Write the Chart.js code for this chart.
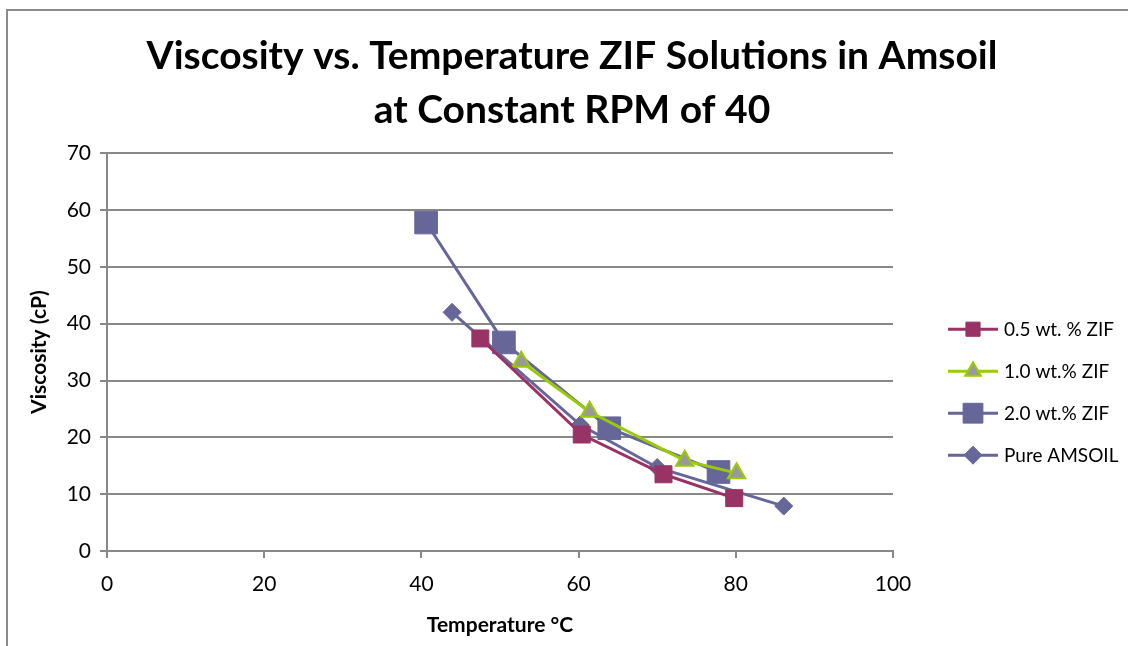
<!DOCTYPE html>
<html>
<head>
<meta charset="utf-8">
<script src="https://cdn.jsdelivr.net/npm/chart.js@4"></script>
<style>
 body{margin:0;background:#fff;}
 #wrap{position:relative;width:1128px;height:646px;}
 #frame{position:absolute;left:6px;top:9px;width:1130px;height:650px;border:2px solid #8a8a8a;pointer-events:none;}
</style>
</head>
<body>
<div id="wrap">
<canvas id="myChart1" width="1128" height="646"></canvas>
<div id="frame"></div>
</div>
<script>
// temperature (C) / viscosity (cP)
var zif05_temp = [47.5, 60.4, 70.8, 79.8];
var zif05_visc = [37.4, 20.5, 13.5, 9.3];
var zif10_temp = [52.7, 61.4, 73.5, 80.1];
var zif10_visc = [33.3, 24.5, 15.9, 13.7];
var zif20_temp = [40.6, 50.5, 63.9, 77.8];
var zif20_visc = [57.8, 36.7, 21.6, 13.9];
var pure_temp = [43.9, 60.2, 70.0, 86.1];
var pure_visc = [42.0, 22.2, 14.7, 7.9];
var seriesNames = ["0.5 wt. % ZIF", "1.0 wt.% ZIF", "2.0 wt.% ZIF", "Pure AMSOIL"];
var xTicks = [0, 20, 40, 60, 80, 100];
var yTicks = [0, 10, 20, 30, 40, 50, 60, 70];

function pts(xs, ys){
	var out = [];
	for(var i = 0; i < xs.length; i++) out.push({x: xs[i], y: ys[i]});
	return out;
}

var FONT = "Lato, 'Open Sans', sans-serif";

// excel style legend (line through marker), drawn right of the plot
var sideLegend = {
	id: "sideLegend",
	beforeInit: function(chart){
		// reserve the legend column so the title stays centred on the whole canvas
		Chart.layouts.addBox(chart, {
			position: "right",
			weight: 0,
			fullSize: false,
			options: {},
			isHorizontal: function(){ return false; },
			update: function(maxW, maxH){ this.width = 235; this.height = maxH; },
			draw: function(){}
		});
	},
	afterDraw: function(chart){
		var ctx = chart.ctx;
		var area = chart.chartArea;
		var x0 = area.right + 55, lineW = 50;
		var y0 = area.top + 176, step = 42;
		chart.data.datasets.forEach(function(ds, i){
			var cy = y0 + step * i;
			ctx.save();
			ctx.strokeStyle = ds.borderColor;
			ctx.lineWidth = ds.borderWidth;
			ctx.beginPath();
			ctx.moveTo(x0, cy);
			ctx.lineTo(x0 + lineW, cy);
			ctx.stroke();
			ctx.fillStyle = ds.pointBackgroundColor;
			ctx.strokeStyle = ds.pointBorderColor;
			ctx.lineWidth = ds.pointBorderWidth;
			Chart.helpers.drawPoint(ctx, {pointStyle: ds.pointStyle, radius: ds.legendRadius, rotation: 0, borderWidth: ds.pointBorderWidth}, x0 + lineW / 2, cy);
			ctx.fillStyle = "#000";
			ctx.font = "19px " + FONT;
			ctx.textBaseline = "middle";
			ctx.textAlign = "left";
			ctx.fillText(ds.label, x0 + lineW + 6, cy + 1);
			ctx.restore();
		});
	}
};

function viscChart(){
	if(window.bar1 != undefined)
    window.bar1.destroy();
	window.bar1 = new Chart(myChart1, {
	type: "line",
	data:{
		datasets:[{
			label: seriesNames[0],
            data: pts(zif05_temp, zif05_visc),
            borderColor: "#993366",
            borderWidth: 3,
            pointStyle: "rect",
            pointRadius: 12,
            legendRadius: 10,
            pointBackgroundColor: "#993366",
            pointBorderColor: "#993366",
            pointBorderWidth: 1
        },{
			label: seriesNames[1],
            data: pts(zif10_temp, zif10_visc),
            borderColor: "#99CC00",
            borderWidth: 3,
            pointStyle: "triangle",
            pointRadius: 10,
            legendRadius: 9,
            pointBackgroundColor: "#999999",
            pointBorderColor: "#99CC00",
            pointBorderWidth: 2
        },{
			label: seriesNames[2],
            data: pts(zif20_temp, zif20_visc),
            borderColor: "#666699",
            borderWidth: 3,
            pointStyle: "rect",
            pointRadius: 16,
            legendRadius: 14,
            pointBackgroundColor: "#666699",
            pointBorderColor: "#666699",
            pointBorderWidth: 1
        },{
			label: seriesNames[3],
            data: pts(pure_temp, pure_visc),
            borderColor: "#666699",
            borderWidth: 3,
            pointStyle: "rectRot",
            pointRadius: 9,
            legendRadius: 9,
            pointBackgroundColor: "#666699",
            pointBorderColor: "#666699",
            pointBorderWidth: 1
        }]
	},
	options:{
		responsive: false,
		animation: false,
		layout: {padding: {left: 16, right: 0, top: 0, bottom: 4}},
		plugins: {
			title: {
				display: true,
				text: ["Viscosity vs. Temperature ZIF Solutions in Amsoil", "at Constant RPM of 40"],
				color: "#000",
				font: {family: FONT, size: 39, weight: "bold", lineHeight: 1.4},
				padding: {top: 29, bottom: 15}
			},
			legend: {display: false},
			tooltip: {enabled: false}
		},
		scales: {
			x: {
				type: "linear",
				min: 0, max: 100,
				afterBuildTicks: function(s){ s.ticks = xTicks.map(function(v){ return {value: v}; }); },
				afterFit: function(s){ s.height = 91; },
				grid: {drawOnChartArea: false, color: "#888", tickLength: 7, lineWidth: 2},
				border: {color: "#888", width: 2},
				ticks: {color: "#000", font: {family: FONT, size: 21}, padding: 14},
				title: {display: true, text: "Temperature °C", color: "#000", font: {family: FONT, size: 21, weight: "bold"}, padding: {top: 0, bottom: 4}}
			},
			y: {
				min: 0, max: 70,
				afterBuildTicks: function(s){ s.ticks = yTicks.map(function(v){ return {value: v}; }); },
				afterFit: function(s){ s.width = 91; },
				grid: {color: "#888", tickLength: 7, lineWidth: 2},
				border: {color: "#888", width: 2},
				ticks: {color: "#000", font: {family: FONT, size: 21}, padding: 9},
				title: {display: true, text: "Viscosity (cP)", color: "#000", font: {family: FONT, size: 21, weight: "bold"}, padding: {top: 11, bottom: 0}}
			}
		}
	},
	plugins: [sideLegend]
});
}
viscChart();
</script>
</body>
</html>
